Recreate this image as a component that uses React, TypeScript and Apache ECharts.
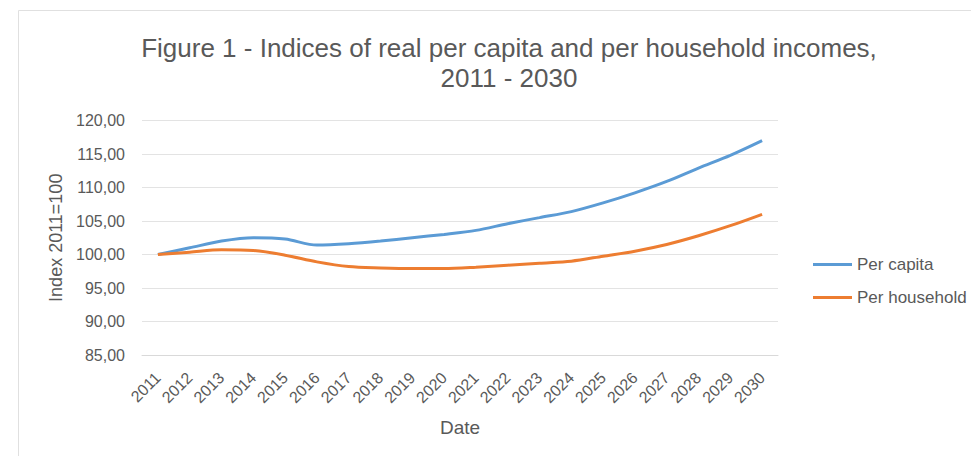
import React, { useEffect, useRef } from "react";
import * as echarts from "echarts";

const years = ["2011","2012","2013","2014","2015","2016","2017","2018","2019","2020","2021","2022","2023","2024","2025","2026","2027","2028","2029","2030"];
const perCapita = [100, 101.0, 102.0, 102.5, 102.3, 101.4, 101.6, 102.0, 102.5, 103.0, 103.6, 104.6, 105.5, 106.4, 107.7, 109.2, 110.9, 112.9, 114.8, 117.0];
const perHousehold = [100, 100.35, 100.7, 100.6, 99.9, 98.9, 98.2, 98.0, 97.9, 97.9, 98.1, 98.4, 98.7, 99.0, 99.75, 100.5, 101.5, 102.8, 104.3, 106.0];
const seriesNames = ["Per capita", "Per household"];
const titleText = "Figure 1 - Indices of real per capita and per household incomes,\n2011 - 2030";

const FONT = "'Liberation Sans', Arial, sans-serif";
const TXT = "#595959";

export default function App() {
  const ref = useRef<HTMLDivElement>(null);
  useEffect(() => {
    const chart = echarts.init(ref.current!, null, { renderer: "svg" });
    chart.setOption({
      animation: false,
      backgroundColor: "#ffffff",
      textStyle: { fontFamily: FONT },
      title: {
        text: titleText,
        left: 504,
        top: 28,
        textAlign: "center",
        textStyle: { fontFamily: FONT, fontSize: 26, fontWeight: "normal", color: TXT, lineHeight: 30 },
      },
      graphic: [
        {
          type: "rect",
          shape: { x: 18.5, y: 10.5, width: 1000, height: 500 },
          style: { fill: "none", stroke: "#e0e0e0", lineWidth: 1 },
          silent: true,
        },
      ],
      legend: {
        orient: "vertical",
        left: 808,
        top: 251,
        icon: "rect",
        itemWidth: 39,
        itemHeight: 3,
        itemGap: 16,
        textStyle: { fontFamily: FONT, fontSize: 17, color: TXT },
        data: seriesNames,
      },
      grid: { left: 142, right: 193, top: 120.5, bottom: 101, containLabel: false },
      xAxis: {
        type: "category",
        data: years,
        boundaryGap: true,
        name: "Date",
        nameLocation: "middle",
        nameGap: 63,
        nameTextStyle: { fontFamily: FONT, fontSize: 19, color: TXT },
        axisLine: { show: true, lineStyle: { color: "#d9d9d9" } },
        axisTick: { show: false },
        axisLabel: { rotate: 45, fontFamily: FONT, fontSize: 16, color: TXT, margin: 20, interval: 0 },
      },
      yAxis: {
        type: "value",
        min: 85,
        max: 120,
        interval: 5,
        name: "Index 2011=100",
        nameLocation: "middle",
        nameRotate: 90,
        nameGap: 77,
        nameTextStyle: { fontFamily: FONT, fontSize: 18, color: TXT },
        axisLine: { show: false },
        axisTick: { show: false },
        axisLabel: {
          fontFamily: FONT,
          fontSize: 16,
          color: TXT,
          margin: 17,
          formatter: (v: number) => v.toFixed(2).replace(".", ","),
        },
        splitLine: { lineStyle: { color: "#e3e3e3", width: 1 } },
      },
      series: [
        {
          name: seriesNames[0],
          type: "line",
          data: perCapita,
          smooth: 0.3,
          symbol: "none",
          lineStyle: { color: "#5b9bd5", width: 3 },
          itemStyle: { color: "#5b9bd5" },
        },
        {
          name: seriesNames[1],
          type: "line",
          data: perHousehold,
          smooth: 0.3,
          symbol: "none",
          lineStyle: { color: "#ed7d31", width: 3 },
          itemStyle: { color: "#ed7d31" },
        },
      ],
    });
    return () => chart.dispose();
  }, []);
  return <div ref={ref} style={{ position: "fixed", left: 0, top: 0, width: 971, height: 456 }} />;
}
